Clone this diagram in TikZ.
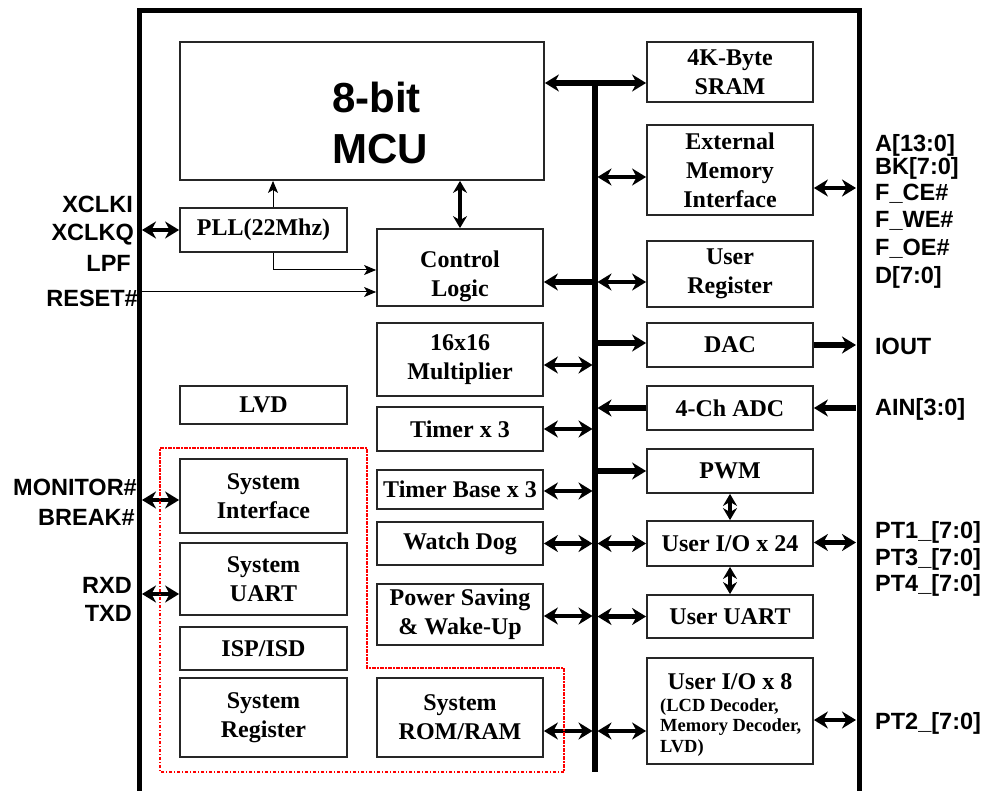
\documentclass[tikz,border=0pt]{standalone}
\usepackage{fontspec}
\setmainfont{Liberation Serif}
\newfontfamily\arialb{Liberation Sans}
\usetikzlibrary{arrows.meta,calc}
\begin{document}
\begin{tikzpicture}[x=1pt,y=-1pt,
  box/.style={draw=black!85,line width=1.8pt,inner sep=0pt,align=center,font=\bfseries\fontsize{24}{29}\selectfont},
  btext/.style={inner sep=0pt,align=center,font=\bfseries\fontsize{24}{29}\selectfont},
  lab/.style={font=\arialb\bfseries\fontsize{23.5}{27}\selectfont,inner sep=0pt,text height=17pt,text depth=0pt},
  bigtip/.tip={Stealth[length=14pt,width=17pt,inset=4.5pt]},
  midtip/.tip={Stealth[length=12pt,width=14pt,inset=4pt]},
  smtip/.tip={Stealth[length=12pt,width=10pt,inset=3pt]},
  thk/.style={line width=5.5pt,-bigtip},
  dbl/.style={line width=4.5pt,bigtip-bigtip},
  dblv/.style={line width=3.5pt,midtip-midtip},
  thn/.style={line width=1pt,-smtip},
]
\useasboundingbox (0,0) rectangle (987,791);
\fill[white] (0,0) rectangle (987,791);

% outer frame
\draw[line width=5pt,line join=miter] (139.5,800) -- (139.5,10.5) -- (859,10.5) -- (859,800);
\coordinate (fL) at (142,10);
\coordinate (fR) at (856,10);

% left column
\node[box,minimum width=364pt,minimum height=138pt] (mcu) at (362,111) {};
\node[font=\arialb\bfseries\fontsize{42}{51}\selectfont,align=left,inner sep=0pt,anchor=west] (mcut) at (332,122.5) {8-bit\\MCU};
\node[box,minimum width=167pt,minimum height=44pt] (pll) at (263.5,230) {PLL(22Mhz)};
\node[box,minimum width=167pt,minimum height=38pt] (lvd) at (263.5,405) {LVD};
\node[box,minimum width=167pt,minimum height=74pt] (sysif) at (263.5,496) {System\\Interface};
\node[box,minimum width=167pt,minimum height=72pt] (sysuart) at (263.5,579) {System\\UART};
\node[box,minimum width=167pt,minimum height=43pt] (isp) at (263.5,648.5) {ISP/ISD};
\node[box,minimum width=167pt,minimum height=79pt] (sysreg) at (263.5,717.5) {System\\Register};

% middle column
\node[box,minimum width=166pt,minimum height=77pt] (ctrl) at (460,267.5) {};
\node[btext] (ctrlt) at ([yshift=-9pt]ctrl.center) {Control\\Logic};
\node[box,minimum width=166pt,minimum height=73pt] (mult) at (460,359.5) {16x16\\Multiplier};
\node[box,minimum width=166pt,minimum height=44pt] (timer) at (460,429) {Timer x 3};
\node[box,minimum width=166pt,minimum height=39pt] (tbase) at (460,489.5) {Timer Base x 3};
\node[box,minimum width=166pt,minimum height=43pt] (wdog) at (460,543.5) {Watch Dog};
\node[box,minimum width=166pt,minimum height=61pt] (psave) at (460,614.5) {Power Saving\\\& Wake-Up};
\node[box,minimum width=166pt,minimum height=79pt] (rom) at (460,717.5) {System\\ROM/RAM};

% right column
\node[box,minimum width=166pt,minimum height=60pt] (sram) at (730,72) {4K-Byte\\SRAM};
\node[box,minimum width=166pt,minimum height=90pt] (emi) at (730,170) {External\\Memory\\Interface};
\node[box,minimum width=166pt,minimum height=66pt] (ureg) at (730,274) {User\\Register};
\node[box,minimum width=166pt,minimum height=44pt] (dac) at (730,345) {DAC};
\node[box,minimum width=166pt,minimum height=44pt] (adc) at (730,408) {4-Ch ADC};
\node[box,minimum width=166pt,minimum height=44pt] (pwm) at (730,471) {PWM};
\node[box,minimum width=166pt,minimum height=45pt] (uio24) at (730,543.5) {User I/O x 24};
\node[box,minimum width=166pt,minimum height=43pt] (uuart) at (730,616.5) {User UART};
\node[box,minimum width=166pt,minimum height=106pt] (uio8) at (730,711) {};
\node[btext] (uio8t) at (730,682) {User I/O x 8};
\node[inner sep=0pt,align=left,anchor=north west,font=\bfseries\fontsize{18.5}{20.5}\selectfont] (uio8s) at (660,698) {(LCD Decoder,\\Memory Decoder,\\LVD)};

% left labels
\node[lab,anchor=east] (xclki) at (133,204) {XCLKI};
\node[lab,anchor=east] (xclkq) at (134,232) {XCLKQ};
\node[lab,anchor=east] (lpf) at (131,263) {LPF};
\node[lab,anchor=east] (reset) at (138,298) {RESET\#};
\node[lab,anchor=east] (monitor) at (137,487) {MONITOR\#};
\node[lab,anchor=east] (break) at (135,517) {BREAK\#};
\node[lab,anchor=east] (rxd) at (132,585) {RXD};
\node[lab,anchor=east] (txd) at (132,613) {TXD};

% right labels
\node[lab,anchor=west] (la) at (875,143) {A[13:0]};
\node[lab,anchor=west] (lbk) at (875,166) {BK[7:0]};
\node[lab,anchor=west] (lce) at (875,192) {F\_CE\#};
\node[lab,anchor=west] (lwe) at (875,219) {F\_WE\#};
\node[lab,anchor=west] (loe) at (875,247) {F\_OE\#};
\node[lab,anchor=west] (ld) at (875,275) {D[7:0]};
\node[lab,anchor=west] (liout) at (875,346) {IOUT};
\node[lab,anchor=west] (lain) at (875,407) {AIN[3:0]};
\node[lab,anchor=west] (lpt1) at (875,530) {PT1\_[7:0]};
\node[lab,anchor=west] (lpt3) at (875,557) {PT3\_[7:0]};
\node[lab,anchor=west] (lpt4) at (875,583) {PT4\_[7:0]};
\node[lab,anchor=west] (lpt2) at (875,721) {PT2\_[7:0]};

% bus
\coordinate (busT) at (595,83);
\coordinate (busB) at (595,772);
\coordinate (busL) at (592.5,83);
\coordinate (busR) at (597.5,83);
\draw[line width=5.5pt] (busT) -- (busB);
\draw[line width=5.5pt,bigtip-bigtip] (busT -| mcu.east) -- (busT -| sram.west);

% middle column to bus
\coordinate (c1) at ([yshift=-14.5pt]ctrl.east);
\draw[thk] (c1 -| busT) -- (c1);
\coordinate (m1) at ([yshift=-5.5pt]mult.east);
\draw[dbl] (m1) -- (m1 -| busL);
\draw[dbl] (timer.east) -- (timer.east -| busL);
\coordinate (t1) at ([yshift=-1.5pt]tbase.east);
\draw[dbl] (t1) -- (t1 -| busL);
\draw[dbl] (wdog.east) -- (wdog.east -| busL);
\coordinate (s1) at ([yshift=-1.5pt]psave.east);
\draw[dbl] (s1) -- (s1 -| busL);
\coordinate (r2) at ([yshift=-13.5pt]rom.east);
\draw[dbl] (r2) -- (r2 -| busL);

% bus to right column
\coordinate (e1) at ([yshift=-7pt]emi.west);
\draw[dbl] (e1 -| busR) -- (e1);
\coordinate (u1) at ([yshift=-8pt]ureg.west);
\draw[dbl] (u1 -| busR) -- (u1);
\coordinate (d1) at ([yshift=2pt]dac.west);
\draw[thk] (d1 -| busT) -- (d1);
\draw[thk] (adc.west) -- (adc.west -| busR);
\draw[thk] (pwm.west -| busT) -- (pwm.west);
\draw[dbl] (uio24.west -| busR) -- (uio24.west);
\draw[dbl] (uuart.west -| busR) -- (uuart.west);
\coordinate (i1) at ([yshift=-20pt]uio8.west);
\draw[dbl] (i1 -| busR) -- (i1);

% right column to pins
\coordinate (e2) at ([yshift=-18pt]emi.east);
\draw[dbl] (e2) -- (e2 -| fR);
\draw[thk] (dac.east) -- (dac.east -| fR);
\draw[thk] (adc.east -| fR) -- (adc.east);
\coordinate (u2) at ([yshift=1pt]uio24.east);
\draw[dbl] (u2) -- (u2 -| fR);
\coordinate (i2) at ([yshift=-9pt]uio8.east);
\draw[dbl] (i2) -- (i2 -| fR);
\draw[dblv] (pwm.south) -- (uio24.north);
\draw[dblv] (uio24.south) -- (uuart.north);

% left side
\draw[dbl] (pll.west -| fL) -- (pll.west);
\coordinate (y1) at ([yshift=-4pt]sysif.west);
\draw[dbl] (y1 -| fL) -- (y1);
\coordinate (y2) at ([yshift=-15pt]sysuart.west);
\draw[dbl] (y2 -| fL) -- (y2);
\coordinate (r1) at ([yshift=-24.5pt]ctrl.west);
\draw[thn] (r1 -| fL) -- (r1);
\coordinate (p0) at ([xshift=9.5pt]pll.north);
\draw[thn] (p0) -- (p0 |- mcu.south);
\coordinate (p1) at ([xshift=9.5pt]pll.south);
\coordinate (p2) at ([yshift=-2.5pt]ctrl.west);
\draw[thn] (p1) |- (p2);
\draw[dblv] (ctrl.north) -- (ctrl.north |- mcu.south);

% red dotted group
\draw[red,line width=2.5pt,dash pattern=on 3.5pt off 1.5pt on 1.5pt off 1.5pt]
  (160,448) -- (367,448) -- (367,668) -- (564,668) -- (564,772) -- (160,772) -- cycle;
\end{tikzpicture}
\end{document}
